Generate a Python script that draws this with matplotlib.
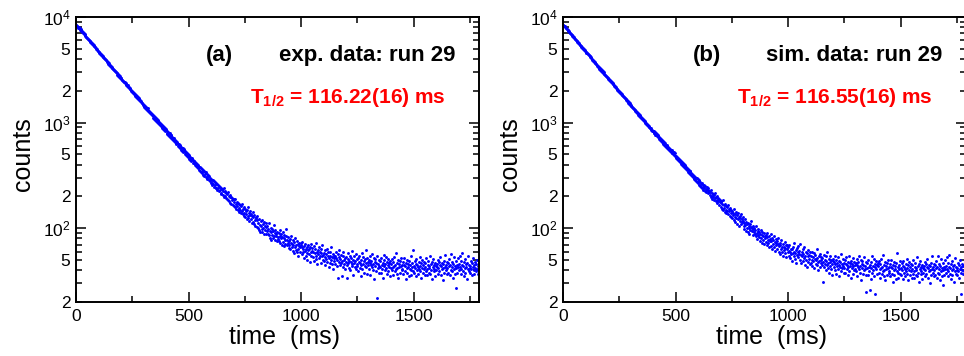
import numpy as np
import matplotlib
matplotlib.use('Agg')
import matplotlib.pyplot as plt
from matplotlib.ticker import LogLocator, FuncFormatter, MultipleLocator

plt.rcParams['font.family'] = ['Liberation Sans', 'DejaVu Sans']
plt.rcParams['mathtext.fontset'] = 'custom'
plt.rcParams['mathtext.rm'] = 'Liberation Sans'
plt.rcParams['mathtext.bf'] = 'Liberation Sans:bold'
plt.rcParams['mathtext.it'] = 'Liberation Sans:italic'

# counts per 2 ms bin, one line = 50 ms
BIN_MS = 2
counts_exp = [
    8398, 8431, 8195, 8240, 8112, 7948, 7990, 7802, 7791, 7605, 7633, 7420, 7461, 7298, 7187, 7215, 7002, 7041, 6858, 6890, 6652, 6701, 6530, 6488, 6311,
    6321, 6190, 6212, 6043, 6080, 5902, 5951, 5788, 5830, 5655, 5701, 5540, 5571, 5398, 5440, 5287, 5310, 5166, 5203, 5021, 5055, 4902, 4931, 4770, 4795,
    4652, 4690, 4541, 4587, 4460, 4503, 4355, 4392, 4251, 4297, 4170, 4221, 4078, 4119, 3970, 4012, 3899, 3921, 3781, 3830, 3702, 3741, 3601, 3630, 3519,
    3530, 3418, 3452, 3341, 3380, 3270, 3312, 3205, 3238, 3140, 3171, 3062, 3101, 2990, 3033, 2931, 2960, 2851, 2889, 2790, 2815, 2721, 2744, 2650, 2671,
    2588, 2631, 2520, 2552, 2470, 2501, 2419, 2448, 2371, 2402, 2311, 2350, 2263, 2290, 2210, 2248, 2160, 2195, 2108, 2131, 2059, 2080, 2004, 2030, 1951,
    1978, 1910, 1940, 1861, 1899, 1830, 1857, 1790, 1821, 1749, 1781, 1712, 1740, 1668, 1702, 1630, 1661, 1597, 1622, 1551, 1585, 1519, 1544, 1480, 1503,
    1440, 1481, 1402, 1436, 1371, 1420, 1349, 1388, 1317, 1360, 1290, 1329, 1255, 1301, 1230, 1268, 1199, 1241, 1170, 1209, 1146, 1180, 1113, 1152, 1087,
    1120, 1061, 1098, 1040, 1079, 1015, 1059, 996, 1035, 971, 1012, 950, 995, 931, 970, 912, 951, 890, 928, 866, 905, 847, 887, 825, 861,
    850, 801, 829, 780, 815, 760, 799, 748, 790, 731, 768, 712, 757, 701, 735, 688, 721, 665, 709, 650, 690, 637, 676, 621, 657,
    641, 604, 630, 590, 621, 575, 611, 598, 556, 590, 571, 543, 580, 529, 561, 550, 509, 541, 528, 497, 530, 483, 511, 470, 499,
    490, 455, 481, 470, 441, 466, 430, 458, 452, 418, 445, 411, 436, 429, 397, 421, 389, 415, 378, 404, 396, 368, 391, 359, 383,
    381, 349, 370, 341, 366, 330, 359, 351, 322, 347, 315, 340, 329, 305, 338, 301, 327, 290, 318, 311, 284, 309, 278, 301, 270,
    295, 266, 288, 259, 283, 261, 279, 247, 271, 255, 240, 268, 242, 262, 231, 257, 238, 226, 251, 229, 246, 217, 240, 212, 236,
    233, 207, 225, 238, 199, 219, 203, 226, 192, 214, 188, 210, 221, 185, 203, 181, 207, 196, 175, 199, 171, 193, 186, 165, 190,
    187, 161, 178, 190, 158, 171, 152, 176, 163, 149, 172, 155, 168, 141, 165, 150, 139, 161, 147, 170, 136, 152, 140, 158, 131,
    153, 128, 147, 136, 121, 149, 131, 158, 124, 140, 117, 133, 145, 121, 137, 112, 130, 141, 115, 127, 109, 134, 120, 106, 128,
    124, 103, 119, 131, 100, 112, 97, 121, 108, 93, 116, 104, 99, 119, 92, 110, 101, 114, 89, 106, 97, 111, 88, 103, 94,
    104, 89, 99, 112, 86, 94, 81, 101, 92, 78, 98, 87, 95, 80, 107, 85, 91, 77, 96, 84, 89, 75, 93, 82, 79,
    91, 76, 85, 97, 72, 81, 88, 70, 83, 93, 74, 80, 68, 86, 77, 71, 84, 99, 69, 78, 73, 82, 65, 76, 70,
    79, 64, 73, 85, 66, 71, 61, 77, 69, 58, 74, 67, 81, 62, 70, 59, 75, 64, 71, 55, 68, 73, 60, 66, 72,
    70, 57, 66, 74, 59, 63, 52, 68, 61, 71, 55, 64, 58, 67, 50, 62, 69, 57, 63, 48, 66, 60, 71, 54, 61,
    65, 53, 60, 68, 49, 58, 63, 55, 72, 51, 59, 46, 62, 57, 66, 52, 60, 55, 47, 63, 58, 54, 69, 50, 56,
    58, 49, 62, 53, 45, 57, 51, 64, 48, 55, 59, 43, 52, 60, 47, 54, 50, 66, 46, 53, 57, 41, 55, 49, 52,
    55, 46, 52, 60, 44, 50, 57, 34, 53, 48, 62, 45, 51, 47, 56, 35, 49, 54, 43, 59, 50, 46, 52, 41, 48,
    53, 45, 34, 51, 47, 58, 42, 49, 55, 40, 48, 52, 44, 61, 46, 50, 36, 47, 54, 43, 49, 57, 41, 46, 51,
    44, 52, 39, 48, 55, 42, 47, 35, 50, 45, 58, 41, 46, 53, 38, 49, 44, 51, 62, 43, 47, 37, 52, 45, 48,
    50, 41, 47, 54, 36, 45, 49, 43, 57, 40, 46, 52, 33, 48, 44, 51, 39, 47, 22, 55, 42, 46, 38, 50, 44,
    43, 49, 38, 52, 45, 41, 47, 34, 50, 44, 56, 40, 46, 42, 53, 37, 48, 45, 39, 51, 43, 47, 35, 49, 42,
    46, 40, 51, 43, 36, 48, 44, 53, 39, 45, 41, 58, 37, 47, 42, 50, 34, 46, 43, 49, 38, 44, 52, 40, 45,
    41, 48, 37, 45, 52, 39, 44, 33, 47, 42, 50, 38, 46, 43, 35, 49, 41, 45, 54, 40, 36, 47, 43, 39, 62,
    44, 38, 49, 42, 46, 35, 51, 40, 45, 43, 37, 48, 41, 53, 39, 44, 47, 34, 42, 50, 38, 45, 41, 48, 36,
    43, 47, 39, 52, 41, 36, 45, 49, 38, 44, 42, 55, 37, 46, 40, 33, 48, 43, 51, 39, 45, 41, 47, 35, 44,
    40, 46, 43, 37, 50, 42, 48, 39, 45, 53, 36, 44, 41, 47, 32, 46, 42, 49, 38, 43, 56, 40, 45, 37, 48,
    42, 38, 47, 44, 51, 36, 45, 40, 57, 43, 39, 48, 34, 46, 41, 53, 37, 44, 27, 49, 42, 45, 38, 52, 43,
    46, 40, 55, 43, 37, 49, 41, 45, 58, 39, 44, 48, 35, 42, 51, 38, 46, 43, 33, 47, 41, 54, 39, 45, 42,
    44, 38, 49, 41, 36, 47, 43, 52, 40, 45, 37, 48, 42, 39, 46, 50, 41, 44, 37, 47,
]
counts_sim = [
    8465, 8340, 8302, 8150, 8131, 8020, 7901, 7865, 7720, 7688, 7560, 7530, 7381, 7345, 7260, 7121, 7090, 6950, 6930, 6781, 6748, 6610, 6570, 6431, 6402,
    6260, 6251, 6140, 6120, 5995, 5990, 5870, 5861, 5742, 5730, 5620, 5605, 5490, 5480, 5360, 5350, 5241, 5225, 5110, 5098, 4985, 4970, 4860, 4845, 4730,
    4710, 4620, 4610, 4520, 4515, 4430, 4420, 4330, 4325, 4240, 4230, 4140, 4135, 4050, 4040, 3950, 3945, 3860, 3850, 3760, 3755, 3670, 3660, 3575, 3560,
    3470, 3480, 3390, 3400, 3320, 3330, 3250, 3260, 3180, 3190, 3110, 3120, 3040, 3050, 2970, 2985, 2900, 2915, 2835, 2845, 2770, 2780, 2700, 2710, 2635,
    2625, 2570, 2575, 2510, 2520, 2455, 2465, 2400, 2410, 2350, 2355, 2300, 2305, 2245, 2250, 2195, 2200, 2140, 2150, 2090, 2095, 2040, 2045, 1985, 1995,
    1930, 1945, 1895, 1905, 1855, 1865, 1815, 1825, 1775, 1790, 1740, 1750, 1700, 1715, 1660, 1675, 1620, 1640, 1585, 1600, 1545, 1560, 1505, 1520, 1470,
    1475, 1430, 1445, 1400, 1415, 1370, 1385, 1340, 1355, 1310, 1325, 1280, 1295, 1250, 1265, 1220, 1235, 1190, 1205, 1165, 1175, 1135, 1150, 1105, 1120,
    1080, 1100, 1055, 1075, 1030, 1050, 1005, 1025, 985, 1000, 960, 980, 940, 955, 920, 935, 900, 915, 880, 895, 860, 880, 840, 860, 825,
    840, 805, 825, 790, 810, 770, 795, 755, 780, 740, 760, 725, 745, 705, 730, 690, 715, 675, 700, 660, 685, 645, 670, 630, 655,
    610, 635, 598, 620, 582, 611, 570, 603, 566, 585, 548, 579, 540, 562, 531, 555, 520, 548, 512, 531, 503, 524, 489, 512, 478,
    485, 462, 470, 449, 476, 441, 458, 430, 452, 422, 441, 419, 433, 408, 426, 399, 415, 392, 407, 381, 399, 375, 390, 366, 378,
    370, 352, 364, 340, 357, 335, 349, 326, 345, 319, 336, 311, 329, 306, 320, 299, 314, 292, 308, 287, 301, 280, 296, 274, 290,
    268, 289, 259, 282, 251, 276, 262, 243, 270, 238, 259, 247, 231, 255, 240, 226, 251, 233, 219, 245, 228, 238, 214, 232, 220,
    227, 205, 221, 198, 230, 203, 190, 217, 196, 211, 183, 205, 192, 214, 179, 198, 186, 203, 172, 194, 181, 165, 189, 176, 183,
    181, 160, 176, 152, 169, 184, 149, 165, 157, 142, 171, 150, 162, 138, 158, 147, 166, 135, 153, 144, 131, 156, 139, 148, 128,
    145, 126, 140, 133, 119, 151, 128, 137, 115, 143, 124, 132, 110, 138, 121, 127, 105, 130, 118, 124, 136, 109, 121, 115, 129,
    118, 104, 112, 99, 121, 107, 95, 115, 101, 109, 92, 113, 100, 106, 89, 110, 97, 103, 116, 94, 100, 86, 105, 98, 92,
    101, 88, 97, 84, 105, 91, 79, 95, 86, 99, 82, 93, 76, 89, 96, 80, 87, 73, 92, 84, 78, 90, 71, 85, 81,
    86, 74, 82, 69, 90, 77, 72, 84, 66, 79, 75, 88, 68, 76, 81, 63, 78, 71, 85, 67, 74, 61, 79, 70, 73,
    75, 63, 71, 80, 60, 68, 73, 57, 69, 64, 78, 59, 66, 71, 55, 67, 62, 74, 58, 65, 69, 53, 63, 70, 60,
    66, 55, 61, 70, 52, 59, 64, 57, 49, 63, 58, 67, 54, 60, 72, 51, 58, 62, 47, 65, 56, 60, 53, 68, 57,
    61, 50, 71, 56, 47, 59, 54, 63, 49, 57, 52, 66, 45, 55, 60, 50, 58, 43, 54, 62, 48, 56, 51, 59, 46,
    55, 47, 60, 50, 44, 53, 49, 58, 42, 51, 56, 46, 50, 63, 45, 52, 48, 40, 54, 49, 57, 43, 50, 47, 53,
    45, 52, 31, 48, 56, 43, 50, 46, 54, 40, 49, 45, 59, 42, 47, 51, 38, 48, 44, 55, 41, 50, 46, 36, 49,
    51, 43, 48, 55, 40, 46, 50, 37, 47, 44, 53, 41, 45, 49, 35, 48, 43, 57, 39, 46, 42, 51, 44, 38, 47,
    42, 50, 38, 46, 53, 41, 45, 36, 48, 43, 55, 39, 44, 47, 34, 49, 42, 46, 52, 37, 44, 40, 48, 45, 41,
    47, 39, 45, 51, 35, 43, 48, 41, 54, 38, 44, 50, 32, 46, 42, 49, 37, 45, 40, 53, 41, 44, 36, 48, 25,
    42, 47, 36, 50, 43, 39, 26, 45, 33, 48, 42, 54, 38, 44, 40, 51, 35, 46, 43, 24, 49, 41, 45, 37, 47,
    44, 38, 49, 41, 34, 46, 42, 51, 37, 43, 39, 56, 35, 45, 40, 48, 32, 44, 41, 47, 36, 42, 50, 38, 43,
    39, 46, 35, 43, 50, 37, 42, 31, 45, 40, 48, 36, 44, 41, 33, 47, 39, 58, 43, 38, 34, 45, 41, 37, 49,
    42, 36, 47, 40, 44, 33, 49, 38, 43, 41, 35, 46, 39, 51, 37, 42, 45, 32, 40, 48, 36, 43, 39, 46, 34,
    41, 45, 37, 50, 39, 34, 43, 47, 36, 42, 40, 53, 35, 44, 38, 31, 46, 41, 49, 37, 43, 39, 45, 33, 42,
    38, 44, 41, 35, 48, 40, 46, 37, 43, 51, 34, 42, 39, 45, 30, 44, 40, 47, 36, 41, 54, 38, 43, 35, 46,
    40, 36, 45, 42, 49, 34, 43, 38, 55, 41, 37, 46, 32, 44, 39, 51, 35, 42, 29, 47, 40, 43, 36, 50, 41,
    44, 38, 53, 41, 35, 47, 39, 43, 56, 37, 42, 46, 33, 40, 49, 36, 44, 41, 31, 45, 39, 52, 37, 43, 40,
    42, 36, 47, 39, 34, 45, 41, 50, 38, 43, 24, 46, 40, 37, 44, 39, 45, 35, 42, 48,
]

panel_tags = ['(a)', '(b)']
panel_titles = ['exp. data: run 29', 'sim. data: run 29']
half_lives = ['116.22(16)', '116.55(16)']
panel_counts = [counts_exp, counts_sim]


def log_label(v, pos):
    if v <= 0:
        return ''
    e = int(np.floor(np.log10(v) + 1e-9))
    m = int(round(v / 10 ** e))
    if m == 1:
        return r'$\mathregular{10^{%d}}$' % e
    if m in (2, 5):
        return str(m)
    return ''


W, H = 964, 356
fig = plt.figure(figsize=(W / 100, H / 100), dpi=100)
lefts = [76, 563]

for i in range(2):
    ax = fig.add_axes([lefts[i] / W, 54 / H, 403 / W, 285 / H])
    counts = panel_counts[i]
    t = np.arange(len(counts)) * BIN_MS
    ax.plot(t, counts, ls='none', marker='o', ms=2.1, mew=0, color='blue')

    ax.set_yscale('log')
    ax.set_ylim(20, 1e4)
    ax.set_xlim(0, 1790)
    ax.xaxis.set_major_locator(MultipleLocator(500))
    ax.xaxis.set_minor_locator(MultipleLocator(250))
    ax.yaxis.set_major_locator(LogLocator(base=10))
    ax.yaxis.set_minor_locator(LogLocator(base=10, subs=np.arange(2, 10)))
    ax.yaxis.set_major_formatter(FuncFormatter(log_label))
    ax.yaxis.set_minor_formatter(FuncFormatter(log_label))

    for s in ax.spines.values():
        s.set_linewidth(1.4)
    ax.tick_params(which='both', direction='in', top=True, right=True,
                   labelsize=12.5, width=1.1, pad=5)
    ax.tick_params(which='major', length=7)
    ax.tick_params(which='minor', length=4.5)
    ax.tick_params(axis='y', which='both', pad=4)

    ax.set_xlabel('time  (ms)', fontsize=18)
    ax.set_ylabel('counts', fontsize=18)
    ax.xaxis.set_label_coords(0.517, -0.082)
    ax.yaxis.set_label_coords(-0.102, 0.518)

    ax.text(0.357, 0.846, panel_tags[i], transform=ax.transAxes, ha='center',
            va='baseline', fontsize=16, fontweight='bold')
    ax.text(0.504, 0.846, panel_titles[i], transform=ax.transAxes, ha='left',
            va='baseline', fontsize=16, fontweight='bold')
    ax.text(0.432, 0.698, r'$\mathbf{T_{1/2}}$ = ' + half_lives[i] + ' ms',
            transform=ax.transAxes, ha='left', va='baseline', fontsize=15,
            fontweight='bold', color='red')

fig.savefig('out.png', dpi=100)
